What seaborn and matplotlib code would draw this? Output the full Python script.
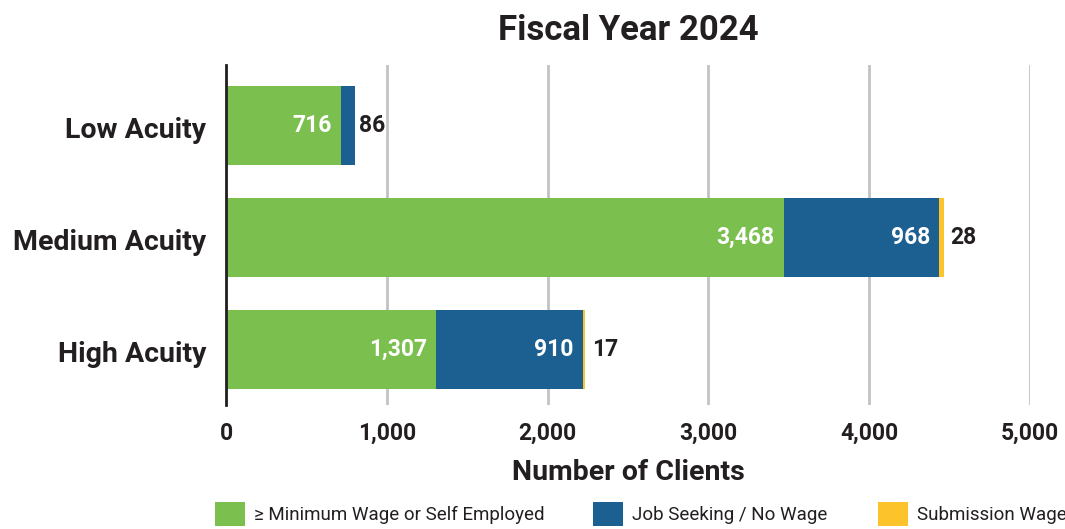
import matplotlib
matplotlib.use("Agg")
import matplotlib.pyplot as plt
import matplotlib.transforms as mtrans
import seaborn as sns
import pandas as pd
from matplotlib.patches import Patch
from matplotlib.ticker import FuncFormatter

categories = ["Low Acuity", "Medium Acuity", "High Acuity"]
min_wage = [716, 3468, 1307]
job_seeking = [86, 968, 910]
submission = [0, 28, 17]
series_names = ["\u2265 Minimum Wage or Self Employed", "Job Seeking / No Wage", "Submission Wage"]
colors = ["#7bbf4e", "#1c5f91", "#fdc32b"]
xticks = [0, 1000, 2000, 3000, 4000, 5000]

sns.set_style("white")
plt.rcParams["font.family"] = ["Roboto", "DejaVu Sans"]
dark = "#231f20"

df = pd.DataFrame({"cat": categories, "g": min_wage, "b": job_seeking, "y": submission})
df["gb"] = df["g"] + df["b"]
df["tot"] = df["gb"] + df["y"]

fig = plt.figure(figsize=(10.65, 5.29), dpi=100)
ax = fig.add_axes([0.2122, 0.234, 0.755, 0.643])

sns.barplot(data=df, y="cat", x="tot", color=colors[2], orient="h", width=0.705, ax=ax, saturation=1, linewidth=0)
sns.barplot(data=df, y="cat", x="gb", color=colors[1], orient="h", width=0.705, ax=ax, saturation=1, linewidth=0)
sns.barplot(data=df, y="cat", x="g", color=colors[0], orient="h", width=0.705, ax=ax, saturation=1, linewidth=0)

ax.set_xlim(0, 5000)
ax.set_ylim(2.5, -0.54)
ax.set_xticks(xticks)
ax.xaxis.set_major_formatter(FuncFormatter(lambda v, p: f"{int(v):,}"))
ax.grid(axis="x", color="#c3c3c5", linewidth=2)
ax.set_axisbelow(True)
for s in ["top", "right", "bottom"]:
    ax.spines[s].set_visible(False)
ax.spines["left"].set_color(dark)
ax.spines["left"].set_linewidth(2)
ax.tick_params(axis="both", length=0)
ax.tick_params(axis="x", pad=12)
ax.tick_params(axis="y", pad=14)
for lbl in ax.get_xticklabels():
    lbl.set_fontsize(16.5); lbl.set_fontweight("bold"); lbl.set_color(dark)
shift = mtrans.ScaledTranslation(0, -5 / 100, fig.dpi_scale_trans)
for lbl in ax.get_yticklabels():
    lbl.set_fontsize(20.5); lbl.set_fontweight("bold"); lbl.set_color(dark)
    lbl.set_verticalalignment("center")
    lbl.set_transform(lbl.get_transform() + shift)
ax.set_ylabel("")
ax.set_xlabel("Number of Clients", fontsize=20.5, fontweight="bold", color=dark, labelpad=10)
ax.set_title("Fiscal Year 2024", fontsize=25, fontweight="bold", color=dark, pad=18)

for i, row in df.iterrows():
    ax.text(row["g"] - 56, i, f"{row['g']:,}", ha="right", va="center", color="white", fontsize=16.5, fontweight="bold")
    if row["b"] > 300:
        ax.text(row["gb"] - 56, i, f"{row['b']:,}", ha="right", va="center", color="white", fontsize=16.5, fontweight="bold")
        if row["y"] > 0:
            ax.text(row["tot"] + 40, i, f"{row['y']:,}", ha="left", va="center", color=dark, fontsize=16.5, fontweight="bold")
    else:
        ax.text(row["tot"] + 25, i, f"{row['b']:,}", ha="left", va="center", color=dark, fontsize=16.5, fontweight="bold")

fs = 13.5
hl = 30 / (fs * 100 / 72)
lefts = [215, 593, 878]
for c, name, x0 in zip(colors, series_names, lefts):
    leg = fig.legend([Patch(facecolor=c, edgecolor="none")], [name], loc="center left",
                     bbox_to_anchor=(x0 / 1065, 0.028), frameon=False, fontsize=fs,
                     handlelength=hl, handleheight=hl, handletextpad=0.5, borderpad=0, borderaxespad=0)
    for t in leg.get_texts():
        t.set_color(dark)

fig.savefig("out.png", dpi=100)
